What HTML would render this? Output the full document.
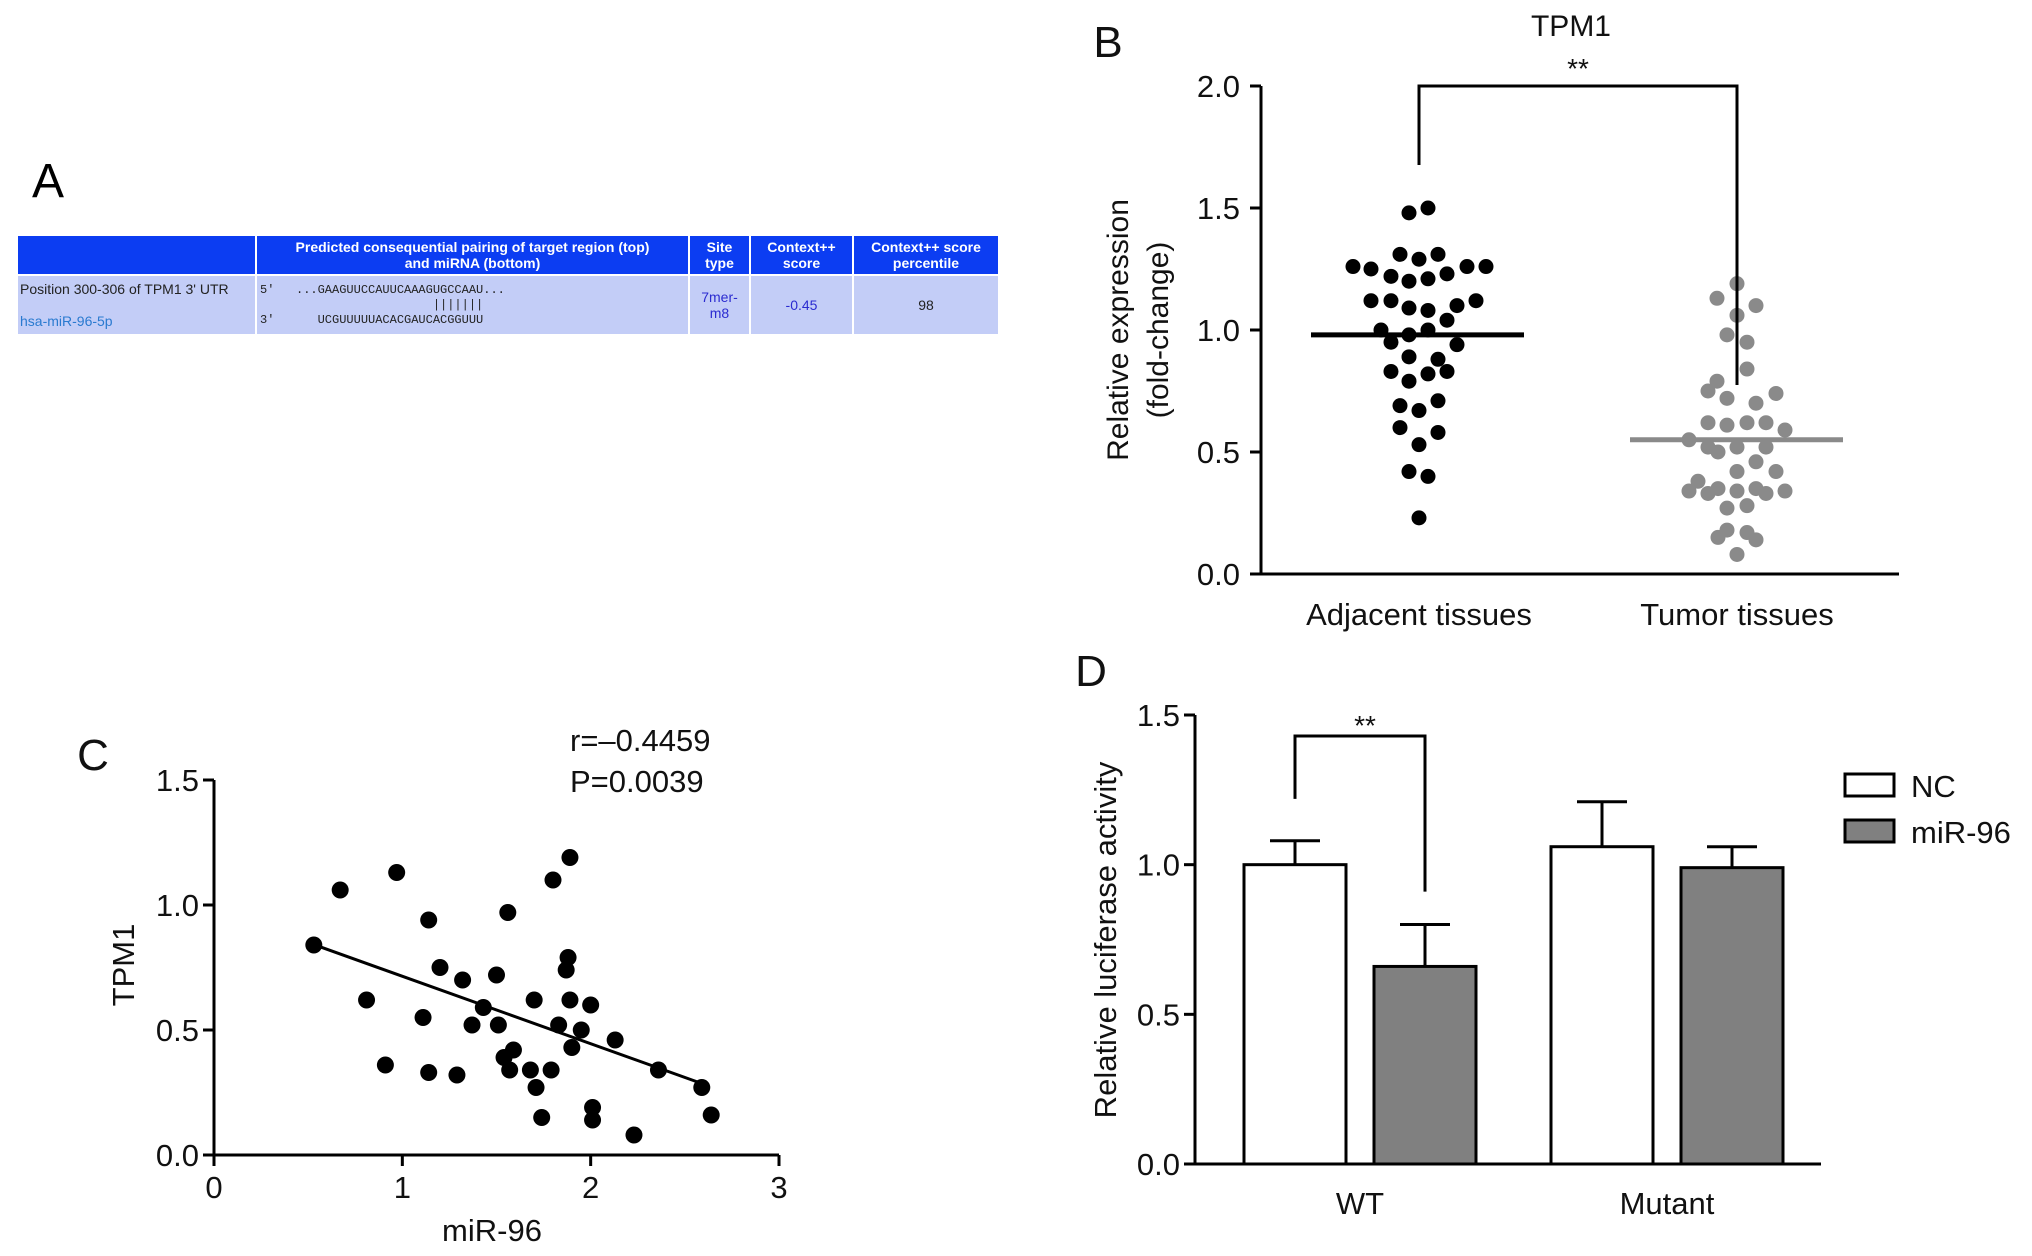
<!DOCTYPE html>
<html><head><meta charset="utf-8"><style>
body{margin:0;background:#fff;width:2032px;height:1256px;overflow:hidden;font-family:"Liberation Sans",sans-serif}
svg{position:absolute;left:0;top:0}
.tbl{position:absolute;left:16px;top:234px;border-collapse:collapse;font-family:"Liberation Sans",sans-serif;font-size:14px;table-layout:fixed;width:984px}
.tbl td{border:2px solid #fff;padding:0;text-align:center}
.h td{background:#0c3df2;color:#fff;font-weight:bold;height:38px;line-height:16px}
.r td{background:#c3cdf7;height:58px;color:#222}
</style></head><body>
<div style="position:absolute;left:32px;top:154px;font-size:48px">A</div>
<table class="tbl">
<tr class="h"><td style="width:237px"></td><td style="width:431px">Predicted consequential pairing of target region (top)<br>and miRNA (bottom)</td><td style="width:59px">Site<br>type</td><td style="width:101px">Context++<br>score</td><td>Context++ score<br>percentile</td></tr>
<tr class="r"><td style="text-align:left;padding:0 2px"><div style="margin-bottom:16px">Position 300-306 of TPM1 3' UTR</div><div style="color:#2a7ad0">hsa-miR-96-5p</div></td>
<td style="text-align:left;font-size:12px;line-height:15px;font-family:'Liberation Mono',monospace;padding-left:3px;white-space:pre"><div>5'   ...GAAGUUCCAUUCAAAGUGCCAAU...</div><div>                        |||||||</div><div>3'      UCGUUUUUACACGAUCACGGUUU</div></td>
<td style="color:#2b2bd0">7mer-<br>m8</td><td style="color:#2b2bd0">-0.45</td><td>98</td></tr></table>
<svg id="s" width="2032" height="1256"></svg>
<script>
// Panel B data
const adjVals=[1.48,1.50,1.31,1.29,1.31,1.26,1.25,1.22,1.20,1.21,1.23,1.26,1.26,1.12,1.12,1.09,1.08,1.10,1.12,1.00,1.00,1.04,0.95,0.98,0.94,0.89,0.88,0.83,0.79,0.82,0.83,0.71,0.67,0.69,0.60,0.58,0.53,0.42,0.40,0.23];
const adjOff=[-10,9,-19,0,19,-66,-48,-28,-10,9,28,48,67,-48,-28,-10,9,38,57,-38,9,28,-28,-10,38,-10,19,-28,-10,9,28,19,0,-19,-19,19,0,-10,9,0];
const tumVals=[1.19,1.13,1.10,1.06,0.98,0.95,0.84,0.79,0.75,0.74,0.72,0.70,0.62,0.61,0.62,0.62,0.59,0.55,0.52,0.50,0.52,0.52,0.46,0.42,0.42,0.38,0.35,0.34,0.33,0.34,0.35,0.33,0.34,0.27,0.28,0.18,0.15,0.17,0.14,0.08];
const tumOff=[0,-20,19,0,-10,10,10,-20,-29,39,-10,19,-29,-10,10,29,48,-48,-29,-19,0,29,19,39,0,-39,-19,-48,-29,0,19,29,48,-10,10,-10,-19,10,19,0];
const bMeans=[0.98,0.55];
const bCats=["Adjacent tissues","Tumor tissues"];
const bTicks=[0,0.5,1,1.5,2];
// Panel C data
const cX=[0.53,0.67,0.97,1.14,0.81,0.91,1.11,1.14,1.20,1.29,1.32,1.37,1.43,1.50,1.51,1.56,1.54,1.57,1.59,1.68,1.70,1.71,1.74,1.80,1.79,1.83,1.88,1.87,1.89,1.89,1.90,1.95,2.00,2.01,2.01,2.13,2.23,2.36,2.59,2.64];
const cY=[0.84,1.06,1.13,0.94,0.62,0.36,0.55,0.33,0.75,0.32,0.70,0.52,0.59,0.72,0.52,0.97,0.39,0.34,0.42,0.34,0.62,0.27,0.15,1.10,0.34,0.52,0.79,0.74,0.62,1.19,0.43,0.50,0.60,0.19,0.14,0.46,0.08,0.34,0.27,0.16];
const cXTicks=[0,1,2,3];
const cYTicks=[0,0.5,1,1.5];
// Panel D data
const dGroups=["WT","Mutant"];
const dNC=[1.00,1.06];
const dNCerr=[0.08,0.15];
const dMir=[0.66,0.99];
const dMirErr=[0.14,0.07];
const dTicks=[0,0.5,1,1.5];

const S=document.getElementById('s');const NS='http://www.w3.org/2000/svg';
function el(t,a,txt){const e=document.createElementNS(NS,t);for(const k in a)e.setAttribute(k,a[k]);if(txt!==undefined)e.textContent=txt;S.appendChild(e);return e;}
function line(x1,y1,x2,y2,w,c){return el('line',{x1,y1,x2,y2,stroke:c||'#000','stroke-width':w||3});}
function text(x,y,s,sz,anc,extra){const a={x,y,'font-size':sz,'text-anchor':anc||'middle','font-family':'Liberation Sans, sans-serif',fill:'#111'};Object.assign(a,extra||{});return el('text',a,s);}

// ---- Panel B ----
const bY=v=>574-v/2*488;const bX=[1419,1737];
let t=text(1108,57,'B',44);
t=text(1571,36,'TPM1',30);
let l=line(1261,bY(2),1261,574,3);
l=line(1259,574,1899,574,3);
bTicks.forEach(v=>{line(1250,bY(v),1261,bY(v),3);t=text(1240,bY(v)+11,v.toFixed(1),31,'end');});
bCats.forEach((c,i)=>{t=text(bX[i],625,c,31);});
t=text(0,0,'Relative expression',30,'middle',{transform:'translate(1128,330) rotate(-90)'});
t=text(0,0,'(fold-change)',30,'middle',{transform:'translate(1168,330) rotate(-90)'});
adjVals.forEach((v,i)=>{const c=el('circle',{cx:bX[0]+adjOff[i],cy:bY(v),r:7.5,fill:'#000'});});
tumVals.forEach((v,i)=>{const c=el('circle',{cx:bX[1]+tumOff[i],cy:bY(v),r:7.5,fill:'#8a8a8a'});});
l=line(1311,bY(bMeans[0]),1524,bY(bMeans[0]),5,'#000');
l=line(1630,bY(bMeans[1]),1843,bY(bMeans[1]),5,'#8a8a8a');
const br=el('polyline',{points:`${bX[0]},165 ${bX[0]},86 ${bX[1]},86 ${bX[1]},385`,fill:'none',stroke:'#000','stroke-width':3});
t=text(1578,78,'**',28);

// ---- Panel C ----
const cx=v=>214+v*(779-214)/3, cy=v=>1155-v*(375/1.5);
t=text(93,770,'C',44);
l=line(214,cy(1.5),214,1155,3);
l=line(212,1155,cx(3),1155,3);
cYTicks.forEach(v=>{line(203,cy(v),214,cy(v),3);t=text(199,cy(v)+11,v.toFixed(1),31,'end');});
cXTicks.forEach(v=>{line(cx(v),1155,cx(v),1166,3);t=text(cx(v),1198,String(v),31);});
t=text(492,1241,'miR-96',31);
t=text(0,0,'TPM1',31,'middle',{transform:'translate(134,965) rotate(-90)'});
t=text(570,751,'r=\u20130.4459',31,'start');
t=text(570,792,'P=0.0039',31,'start');
cX.forEach((x,i)=>{const c=el('circle',{cx:cx(x),cy:cy(cY[i]),r:8.5,fill:'#000'});});
{const n=cX.length;const mx=cX.reduce((a,b)=>a+b)/n,my=cY.reduce((a,b)=>a+b)/n;let sxy=0,sxx=0;cX.forEach((x,i)=>{sxy+=(x-mx)*(cY[i]-my);sxx+=(x-mx)*(x-mx);});const b=sxy/sxx,a=my-b*mx;const x0=Math.min(...cX),x1=2.59;
l=line(cx(x0),cy(a+b*x0),cx(x1),cy(a+b*x1),3);}

// ---- Panel D ----
const dy=v=>1164-v*(449/1.5);const gC=[1360,1667];const bw=102;
t=text(1091,686,'D',44);
dGroups.forEach((g,i)=>{
 const xn=gC[i]-bw-14, xm=gC[i]+14;
 let r=el('rect',{x:xn,y:dy(dNC[i]),width:bw,height:1164-dy(dNC[i]),fill:'#fff',stroke:'#000','stroke-width':3});
 line(xn+bw/2,dy(dNC[i]),xn+bw/2,dy(dNC[i]+dNCerr[i]),3);line(xn+bw/2-25,dy(dNC[i]+dNCerr[i]),xn+bw/2+25,dy(dNC[i]+dNCerr[i]),3);
 r=el('rect',{x:xm,y:dy(dMir[i]),width:bw,height:1164-dy(dMir[i]),fill:'#808080',stroke:'#000','stroke-width':3});
 line(xm+bw/2,dy(dMir[i]),xm+bw/2,dy(dMir[i]+dMirErr[i]),3);line(xm+bw/2-25,dy(dMir[i]+dMirErr[i]),xm+bw/2+25,dy(dMir[i]+dMirErr[i]),3);
 t=text(gC[i],1214,g,31);
});
l=line(1195,dy(1.5),1195,1164,3);
l=line(1193,1164,1821,1164,3);
dTicks.forEach(v=>{line(1184,dy(v),1195,dy(v),3);t=text(1180,dy(v)+11,v.toFixed(1),31,'end');});
t=text(0,0,'Relative luciferase activity',31,'middle',{transform:'translate(1116,940) rotate(-90)'});
{const xl=gC[0]-bw/2-14,xr=gC[0]+14+bw/2;const p=el('polyline',{points:`${xl},${dy(1.22)} ${xl},${dy(1.43)} ${xr},${dy(1.43)} ${xr},${dy(0.91)}`,fill:'none',stroke:'#000','stroke-width':3});}
t=text(1365,735,'**',28);
let lg=el('rect',{x:1845,y:774,width:49,height:22,fill:'#fff',stroke:'#000','stroke-width':3});
lg=el('rect',{x:1845,y:820,width:49,height:22,fill:'#808080',stroke:'#000','stroke-width':3});
t=text(1911,797,'NC',31,'start');
t=text(1911,843,'miR-96',31,'start');
</script>
</body></html>
